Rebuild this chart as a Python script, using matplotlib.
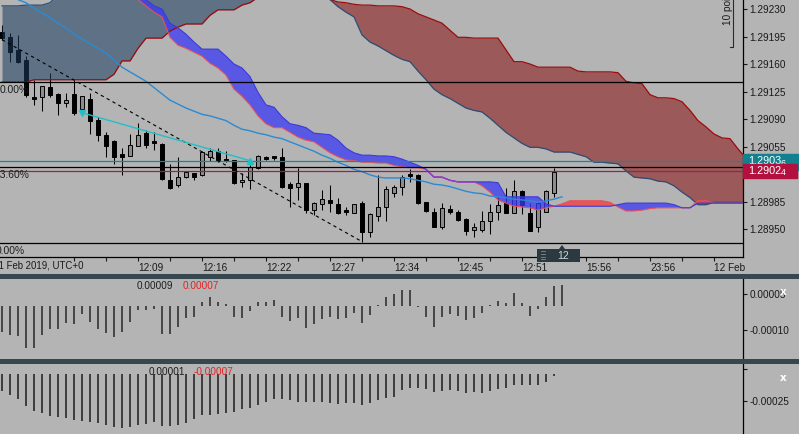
import numpy as np
import matplotlib
matplotlib.use("Agg")
import matplotlib.pyplot as plt
import matplotlib.transforms as mtransforms
from matplotlib.patches import Rectangle, Polygon

plt.rcParams['font.family'] = ['Liberation Sans', 'DejaVu Sans']
plt.rcParams['axes.linewidth'] = 0.9

# ---- candles (M1, index 0 = leftmost) ----
opens = [1.29201, 1.29194, 1.29178, 1.29165, 1.29118, 1.29118, 1.29131, 1.29122, 1.29110, 1.29122,
         1.29103, 1.29116, 1.29089, 1.29070, 1.29062, 1.29045, 1.29043, 1.29056, 1.29072, 1.29062,
         1.29058, 1.29012, 1.29006, 1.29016, 1.29021, 1.29019, 1.29042, 1.29049, 1.29039, 1.29038,
         1.29010, 1.29012, 1.29028, 1.29042, 1.29043, 1.29042, 1.29007, 1.29004, 1.29009, 1.28974,
         1.28982, 1.28987, 1.28982, 1.28973, 1.28971, 1.28983, 1.28946, 1.28967, 1.28978, 1.28996,
         1.29004, 1.29020, 1.29019, 1.28984, 1.28972, 1.28952, 1.28976, 1.28972, 1.28963, 1.28949,
         1.28949, 1.28960, 1.28972, 1.28983, 1.28971, 1.28998, 1.28971, 1.28952, 1.28972, 1.28996]
highs = [1.29210, 1.29199, 1.29197, 1.29170, 1.29140, 1.29132, 1.29149, 1.29123, 1.29123, 1.29140,
         1.29119, 1.29123, 1.29093, 1.29073, 1.29063, 1.29053, 1.29071, 1.29085, 1.29076, 1.29073,
         1.29059, 1.29033, 1.29042, 1.29024, 1.29021, 1.29049, 1.29053, 1.29053, 1.29049, 1.29038,
         1.29021, 1.29031, 1.29044, 1.29043, 1.29043, 1.29053, 1.29010, 1.29028, 1.29009, 1.28984,
         1.29000, 1.29006, 1.28990, 1.28978, 1.28982, 1.28986, 1.28971, 1.29019, 1.29005, 1.29006,
         1.29019, 1.29026, 1.29020, 1.28984, 1.28977, 1.28983, 1.28981, 1.28974, 1.28964, 1.28958,
         1.28973, 1.28982, 1.28991, 1.29002, 1.29012, 1.29000, 1.28983, 1.28984, 1.29000, 1.29028]
lows = [1.29191, 1.29163, 1.29161, 1.29118, 1.29108, 1.29100, 1.29118, 1.29095, 1.29105, 1.29095,
        1.29101, 1.29071, 1.29062, 1.29042, 1.29033, 1.29019, 1.29043, 1.29056, 1.29053, 1.29051,
        1.29012, 1.29001, 1.29004, 1.29015, 1.29012, 1.29018, 1.29037, 1.29035, 1.29035, 1.29007,
        1.29004, 1.29001, 1.29026, 1.29038, 1.29038, 1.29002, 1.28978, 1.28987, 1.28971, 1.28968,
        1.28974, 1.28972, 1.28969, 1.28968, 1.28971, 1.28934, 1.28940, 1.28960, 1.28960, 1.28991,
        1.28993, 1.29010, 1.28982, 1.28972, 1.28952, 1.28950, 1.28969, 1.28960, 1.28943, 1.28940,
        1.28946, 1.28944, 1.28962, 1.28971, 1.28971, 1.28969, 1.28948, 1.28946, 1.28972, 1.28991]
closes = [1.29193, 1.29175, 1.29163, 1.29121, 1.29116, 1.29132, 1.29121, 1.29110, 1.29114, 1.29098,
          1.29119, 1.29088, 1.29070, 1.29056, 1.29042, 1.29042, 1.29057, 1.29070, 1.29057, 1.29059,
          1.29014, 1.29002, 1.29016, 1.29023, 1.29016, 1.29048, 1.29049, 1.29038, 1.29037, 1.29009,
          1.29012, 1.29029, 1.29043, 1.29039, 1.29040, 1.29004, 1.29002, 1.29009, 1.28974, 1.28983,
          1.28988, 1.28983, 1.28971, 1.28972, 1.28982, 1.28946, 1.28969, 1.28978, 1.29001, 1.29004,
          1.29016, 1.29018, 1.28983, 1.28973, 1.28953, 1.28977, 1.28972, 1.28962, 1.28948, 1.28953,
          1.28960, 1.28972, 1.28981, 1.28971, 1.28998, 1.28981, 1.28948, 1.28983, 1.28998, 1.29023]

# moving average, bars 1..70
ma_start = 1
ma_vals = [1.29248, 1.29242, 1.29238, 1.29231, 1.29225, 1.29219, 1.29212, 1.29206, 1.29198, 1.29192,
           1.29186, 1.29180, 1.29174, 1.29165, 1.29156, 1.29150, 1.29144, 1.29138, 1.29130, 1.29122,
           1.29114, 1.29109, 1.29104, 1.29100, 1.29096, 1.29094, 1.29091, 1.29088, 1.29082, 1.29077,
           1.29075, 1.29072, 1.29070, 1.29067, 1.29065, 1.29061, 1.29057, 1.29053, 1.29049, 1.29044,
           1.29040, 1.29035, 1.29031, 1.29026, 1.29023, 1.29019, 1.29016, 1.29015, 1.29015, 1.29015,
           1.29014, 1.29012, 1.29010, 1.29007, 1.29006, 1.29004, 1.29001, 1.28998, 1.28996, 1.28995,
           1.28992, 1.28991, 1.28990, 1.28988, 1.28987, 1.28986, 1.28984, 1.28986, 1.28988, 1.28991]

# slow ichimoku (slate / brown cloud), bars 0..93
span_a_slow = [1.29137] * 4 + [1.29140] * 10 + [
    1.29147, 1.29164, 1.29164, 1.29180, 1.29193, 1.29193, 1.29193, 1.29202, 1.29207, 1.29211,
    1.29211, 1.29211, 1.29222, 1.29229, 1.29229, 1.29229, 1.29235, 1.29238, 1.29245, 1.29254] + [1.29261] * 5 + [
    1.29257, 1.29249, 1.29242, 1.29239, 1.29238, 1.29236, 1.29235, 1.29235, 1.29234, 1.29234,
    1.29234, 1.29233, 1.29230, 1.29224, 1.29220, 1.29216, 1.29212, 1.29203, 1.29194, 1.29194] + [1.29193] * 4 + [
    1.29178, 1.29163, 1.29163, 1.29160] + [1.29156] * 5 + [1.29151] + [1.29150] * 4 + [
    1.29149, 1.29138, 1.29136, 1.29135, 1.29121, 1.29117, 1.29117, 1.29116, 1.29112, 1.29101,
    1.29088, 1.29080, 1.29071, 1.29066, 1.29065, 1.29052, 1.29040]
span_b_slow = [1.29234] * 3 + [1.29235] * 3 + [1.29238, 1.29248] + [1.29280] * 32 + [
    1.29257, 1.29242, 1.29233, 1.29226, 1.29220, 1.29197, 1.29188, 1.29183, 1.29177, 1.29171,
    1.29166, 1.29163, 1.29151, 1.29140, 1.29128, 1.29121, 1.29116, 1.29110, 1.29104, 1.29101,
    1.29099, 1.29091, 1.29082, 1.29073, 1.29066, 1.29059, 1.29054, 1.29054, 1.29052, 1.29048,
    1.29048, 1.29048, 1.29045, 1.29042, 1.29035, 1.29035, 1.29034, 1.29033, 1.29024, 1.29016,
    1.29015, 1.29014, 1.29011, 1.29010, 1.29005, 1.28997, 1.28990, 1.28981, 1.28981] + [1.28984] * 5

# fast ichimoku (blue / red band), bars 16..93
fast_start = 16
span_b_fast = [
    1.29261, 1.29248, 1.29242, 1.29234, 1.29230, 1.29212, 1.29206, 1.29198, 1.29188, 1.29179,
    1.29179, 1.29179, 1.29170, 1.29160, 1.29155, 1.29144, 1.29124, 1.29108, 1.29105, 1.29093,
    1.29084, 1.29082, 1.29079, 1.29072, 1.29071, 1.29070, 1.29063, 1.29053, 1.29047, 1.29044,
    1.29044, 1.29043, 1.29043, 1.29042, 1.29039, 1.29035, 1.29031, 1.29026, 1.29016, 1.29016,
    1.29012, 1.29010, 1.29010, 1.29010, 1.29010, 1.29010, 1.29009, 1.28991, 1.28991, 1.28991,
    1.28991, 1.28991, 1.28982, 1.28979] + [1.28979] * 7 + [1.28981] + [1.28983] * 6 + [
    1.28981, 1.28977, 1.28977] + [1.28983] * 7
span_a_fast = [
    1.29254, 1.29242, 1.29234, 1.29226, 1.29220, 1.29194, 1.29184, 1.29180, 1.29175, 1.29170,
    1.29161, 1.29155, 1.29146, 1.29128, 1.29119, 1.29108, 1.29094, 1.29084, 1.29079, 1.29079,
    1.29073, 1.29067, 1.29063, 1.29061, 1.29054, 1.29047, 1.29042, 1.29038, 1.29037, 1.29035,
    1.29035, 1.29034, 1.29034, 1.29031, 1.29029, 1.29028, 1.29028, 1.29026, 1.29016, 1.29016,
    1.29012, 1.29010, 1.29010, 1.29010, 1.29005, 1.28997, 1.28987, 1.28983, 1.28979, 1.28978,
    1.28977, 1.28974, 1.28977, 1.28979, 1.28982] + [1.28986] * 5 + [
    1.28984, 1.28978, 1.28973, 1.28973, 1.28974, 1.28976] + [1.28977] * 5 + [1.28986, 1.28986] + [1.28983] * 5
merged_from, merged_to = 53, 59

# drawings
trend_x = [0, 45]
trend_y = [1.29191, 1.28934]
arrow_x = [10, 31]
arrow_y = [1.29098, 1.29037]
fib_levels = [1.29137, 1.29029, 1.28932]
fib_labels = [(1.29127, "0.00%", 3.3), (1.29019, "23.60%", 3.4), (1.28922, "0.00%", 2.8)]
ask_price, bid_price = 1.29036, 1.29024

price_ticks = [1.29230, 1.29195, 1.29160, 1.29125, 1.29090, 1.29055, 1.28985, 1.28950]
time_ticks = [9, 13, 17, 21, 25, 29, 33, 37, 41, 45, 49, 53, 57, 61, 65, 69, 73, 77, 81, 85, 89]
time_labels = {17: "12:09", 25: "12:16", 33: "12:22", 41: "12:27", 49: "12:34",
               57: "12:45", 65: "12:51", 73: "15:56", 81: "23:56", 89: "12 Feb"}

# oscillators (x 1e-5)
osc1 = [-10.7, -12.1, -12.5, -17.6, -17.6, -12.1, -9.7, -9.7, -7.2, -7.5,
        -3.3, -6.8, -9.7, -11.4, -12.8, -11.0, -6.5, -1.7, -1.7, -1.4,
        -11.7, -11.7, -8.6, -5.1, -4.4, 1.8, 3.6, 1.5, 0.8, -4.7,
        -5.1, -1.9, 1.5, 1.8, 2.5, -4.4, -6.1, -5.1, -9.3, -7.5,
        -5.6, -4.7, -5.6, -4.9, -2.8, -6.9, -3.8, 0.3, 3.6, 5.0,
        6.7, 6.7, -0.6, -4.4, -8.9, -4.4, -3.3, -4.2, -5.8, -5.1,
        -3.1, 0.4, 2.2, 1.4, 5.3, 1.4, -4.2, -1.4, 3.6, 8.5, 8.8]
osc2 = [-15.4, -19.4, -23.4, -29.3, -34.0, -36.4, -38.6, -39.5, -41.0, -42.6,
        -43.2, -44.2, -45.7, -47.2, -48.8, -49.7, -48.8, -47.2, -46.3, -44.2,
        -48.1, -48.1, -47.2, -45.7, -41.9, -38.0, -38.0, -37.0, -36.4, -34.9,
        -32.7, -31.8, -28.7, -25.6, -23.4, -23.4, -24.1, -25.6, -25.6, -25.6,
        -25.6, -26.6, -27.8, -27.1, -26.6, -28.7, -27.1, -24.1, -22.5, -21.6,
        -14.8, -13.2, -13.2, -14.2, -16.4, -15.4, -14.8, -15.4, -17.3, -16.4,
        -17.3, -15.4, -14.2, -13.2, -10.2, -10.2, -10.2, -10.2, -7.1, -1.5]

BG = "#b4b4b4"
SEP = "#37474f"
W, H = 799, 434


def fig_box(x0, y0, x1, y1):
    return [x0 / W, 1 - y1 / H, (x1 - x0) / W, (y1 - y0) / H]


fig = plt.figure(figsize=(W / 100, H / 100), dpi=100)
fig.patch.set_facecolor(BG)

ax = fig.add_axes(fig_box(0, 0, 743, 257))
ax1 = fig.add_axes(fig_box(0, 279, 743, 359))
ax2 = fig.add_axes(fig_box(0, 364, 743, 434))
for a in (ax, ax1, ax2):
    a.set_facecolor(BG)
    a.set_xlim(-0.25, 92.625)
    a.spines[['top', 'left']].set_visible(False)
    a.yaxis.tick_right()
    a.tick_params(axis='y', length=3, width=0.8, pad=1.5, labelsize=7.2, colors='#1a1a1a')
ax1.spines['bottom'].set_visible(False)
ax2.spines['bottom'].set_visible(False)
ax1.set_xticks([])
ax2.set_xticks([])

ax.set_ylim(1.289144, 1.292415)

# clouds
i_slow = np.arange(len(span_a_slow))
a_s, b_s = np.array(span_a_slow), np.array(span_b_slow)
ax.fill_between(i_slow, a_s, b_s, where=a_s >= b_s, interpolate=True, color="#9b5959", lw=0, zorder=1)
ax.fill_between(i_slow, a_s, b_s, where=b_s >= a_s, interpolate=True, color="#1a3d60", alpha=0.55, lw=0, zorder=5)
ax.plot(i_slow, a_s, color="#9c0c0c", lw=0.9, zorder=6)
ax.plot(i_slow, b_s, color="#2c4c74", lw=0.9, zorder=6)

i_fast = np.arange(fast_start, fast_start + len(span_a_fast))
a_f, b_f = np.array(span_a_fast), np.array(span_b_fast)
ax.fill_between(i_fast, a_f, b_f, where=b_f >= a_f, interpolate=True, color="#3a3af5", alpha=0.75, lw=0, zorder=5)
ax.fill_between(i_fast, a_f, b_f, where=a_f >= b_f, interpolate=True, color="#f04848", alpha=0.85, lw=0, zorder=5)
ax.plot(i_fast, a_f, color="#e8505a", lw=0.8, zorder=6)
ax.plot(i_fast, b_f, color="#3a3ad8", lw=0.8, zorder=6)
m0, m1 = merged_from - fast_start, merged_to - fast_start + 1
ax.plot(i_fast[m0:m1], a_f[m0:m1], color="#9a3cc8", lw=1.0, zorder=6)

# candles
o, h, l, c = map(np.array, (opens, highs, lows, closes))
idx = np.arange(len(o))
up = c >= o
ax.vlines(idx, l, h, color='black', lw=0.75, zorder=3)
body_lo = np.minimum(o, c)
body_h = np.maximum(np.abs(c - o), 0.000016)
ax.bar(idx, body_h, bottom=body_lo, width=0.62, color=np.where(up, "#8c8c8c", "black"),
       edgecolor='black', linewidth=0.7, zorder=4)

# MA
ax.plot(np.arange(ma_start, ma_start + len(ma_vals)), ma_vals, color="#2a8ad4", lw=1.0, zorder=7)

# horizontal levels
for lv in fib_levels:
    ax.axhline(lv, color='black', lw=0.9, zorder=7)
ax.axhline(ask_price, color="#0f8c9c", lw=0.9, zorder=7)
ax.axhline(bid_price, color="#a0204a", lw=0.9, zorder=7)
for py, txt, xr in fib_labels:
    ax.text(xr, py, txt, fontsize=7.4, color='#1e1e1e', va='center', ha='right', zorder=8)

# trend line and arrow
ax.plot(trend_x, trend_y, color='black', lw=0.8, ls=(0, (3, 3)), zorder=8)
ax.plot(arrow_x, arrow_y, color="#20c0c8", lw=1.0, zorder=8)
ax.plot(arrow_x[0], arrow_y[0], marker='v', ms=5, color="#20c0c8", zorder=8)
ax.plot(arrow_x[1], arrow_y[1], marker='^', ms=5, color="#20c0c8", zorder=8)

# axes ticks
ax.set_yticks(price_ticks)
ax.set_yticklabels([f"{v:.5f}" for v in price_ticks])
ax.set_xticks(time_ticks)
ax.set_xticklabels([time_labels.get(t, "") for t in time_ticks])
ax.tick_params(axis='x', length=3, width=0.8, pad=1.2, labelsize=7.2, colors='#1a1a1a')
for lbl in ax.get_xticklabels():
    lbl.set_horizontalalignment('left')
tb = mtransforms.blended_transform_factory(ax.transData, ax.transAxes)
ax.text(10.15, -0.035, "11 Feb 2019, UTC+0", transform=tb, ha='right', va='center',
        fontsize=6.9, color='#1a1a1a', clip_on=False)

# price boxes on the right
tr = mtransforms.blended_transform_factory(ax.transAxes, ax.transData)
ax.add_patch(Rectangle((1.0, 1.29025), 56 / 743, 0.00020, transform=tr, color="#12808e",
                       clip_on=False, zorder=10))
ax.text(1.0067, ask_price, "1.2903", transform=tr, color='white', fontsize=7.8, va='center',
        clip_on=False, zorder=11)
ax.text(1.0067 + 33 / 743, ask_price - 0.00002, "6", transform=tr, color='white', fontsize=6.3,
        va='center', clip_on=False, zorder=11)
ax.add_patch(Rectangle((1.0, 1.29015), 54 / 743, 0.000178, transform=tr, color="#b3103f",
                       clip_on=False, zorder=12))
ax.text(1.0067, bid_price, "1.2902", transform=tr, color='white', fontsize=7.8, va='center',
        clip_on=False, zorder=13)
ax.text(1.0067 + 33 / 743, bid_price - 0.00002, "4", transform=tr, color='white', fontsize=6.3,
        va='center', clip_on=False, zorder=13)

# scale bracket "10 points"
ax.text(728 / 743, 1 - 25 / 257, "10 points", transform=ax.transAxes, rotation=90,
        rotation_mode='anchor', ha='left', va='center', fontsize=7.2, color='#1a1a1a', zorder=9)
ax.plot([733 / 743, 733 / 743, 730 / 743], [1.0, 1 - 47 / 257, 1 - 47 / 257],
        transform=ax.transAxes, color='#2a2a2a', lw=0.8, zorder=9)

# oscillator panels
osc1_v = np.array(osc1) * 1e-5
osc2_v = np.array(osc2) * 1e-5
ax1.vlines(np.arange(len(osc1_v)), 0, osc1_v, color="#3c3c3c", lw=1.3)
ax1.set_ylim(-0.0002208, 0.0001125)
ax1.set_yticks([0.00005, -0.0001])
ax1.set_yticklabels(["0.00005", "-0.00010"])
ax1.text(137 / 743, 0.9125, "0.00009", transform=ax1.transAxes, fontsize=7.2, color='#1e1e1e', va='center')
ax1.text(183 / 743, 0.9125, "0.00007", transform=ax1.transAxes, fontsize=7.2, color='#e62222', va='center')

ax2.vlines(np.arange(len(osc2_v)), 0, osc2_v, color="#333333", lw=1.3)
ax2.set_ylim(-0.0005556, 0.0000926)
ax2.set_yticks([0.0000463, -0.00025])
ax2.set_yticklabels(["", "-0.00025"])
ax2.text(149 / 743, 0.886, "0.00001", transform=ax2.transAxes, fontsize=7.2, color='#1e1e1e', va='center')
ax2.text(194 / 743, 0.886, "-0.00007", transform=ax2.transAxes, fontsize=7.2, color='#e62222', va='center')

# separators and panel icons
for y0, y1 in [(274, 279), (359, 364)]:
    fig.add_artist(Rectangle((0, 1 - y1 / H), 1, (y1 - y0) / H, transform=fig.transFigure,
                             color=SEP, lw=0))
for yy in (292, 378):
    fig.text(783 / W, 1 - yy / H, "x", color='white', fontsize=7.5, fontweight='bold',
             ha='center', va='center', family='DejaVu Sans')

# bar counter tag
fig.add_artist(Rectangle((537 / W, 1 - 262 / H), 43 / W, 13 / H, transform=fig.transFigure,
                         color="#2b3940", lw=0, zorder=20))
fig.add_artist(Polygon([[559 / W, 1 - 249 / H], [565 / W, 1 - 249 / H], [562 / W, 1 - 245 / H]],
                       closed=True, transform=fig.transFigure, color="#2b3940", lw=0, zorder=20))
for k in range(4):
    yy = 251.5 + k * 2.5
    fig.add_artist(plt.Line2D([541 / W, 545 / W], [1 - yy / H, 1 - yy / H], transform=fig.transFigure,
                              color="#7d8b91", lw=0.6, zorder=21))
fig.text(563 / W, 1 - 256 / H, "12", color="#cfd8dc", fontsize=7.5, ha='center', va='center', zorder=21)

fig.savefig("out.png", dpi=100, facecolor=BG)
